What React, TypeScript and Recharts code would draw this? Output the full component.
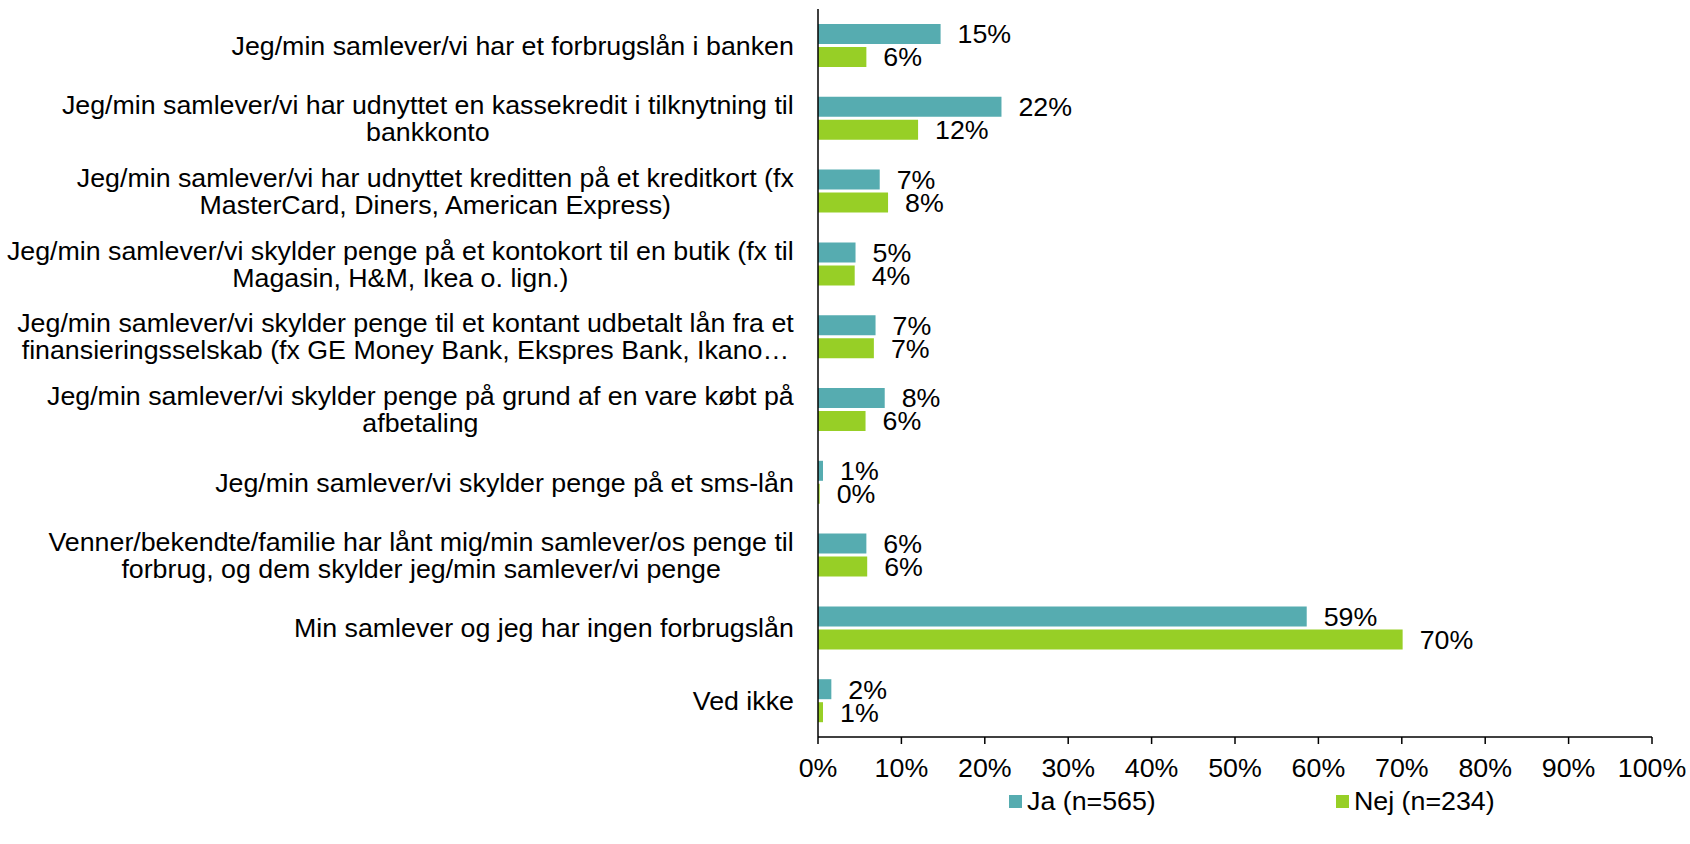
import React from 'react';
import { BarChart, Bar, XAxis, YAxis, Legend, LabelList } from 'recharts';

const categories = [
  'Jeg/min samlever/vi har et forbrugslån i banken',
  'Jeg/min samlever/vi har udnyttet en kassekredit i tilknytning til bankkonto',
  'Jeg/min samlever/vi har udnyttet kreditten på et kreditkort (fx MasterCard, Diners, American Express)',
  'Jeg/min samlever/vi skylder penge på et kontokort til en butik (fx til Magasin, H&M, Ikea o. lign.)',
  'Jeg/min samlever/vi skylder penge til et kontant udbetalt lån fra et finansieringsselskab (fx GE Money Bank, Ekspres Bank, Ikano…',
  'Jeg/min samlever/vi skylder penge på grund af en vare købt på afbetaling',
  'Jeg/min samlever/vi skylder penge på et sms-lån',
  'Venner/bekendte/familie har lånt mig/min samlever/os penge til forbrug, og dem skylder jeg/min samlever/vi penge',
  'Min samlever og jeg har ingen forbrugslån',
  'Ved ikke',
];

// tick label lines, as wrapped in the original
const categoryLines = [
  ['Jeg/min samlever/vi har et forbrugslån i banken'],
  ['Jeg/min samlever/vi har udnyttet en kassekredit i tilknytning til', 'bankkonto'],
  ['Jeg/min samlever/vi har udnyttet kreditten på et kreditkort (fx', 'MasterCard, Diners, American Express)'],
  ['Jeg/min samlever/vi skylder penge på et kontokort til en butik (fx til', 'Magasin, H&M, Ikea o. lign.)'],
  ['Jeg/min samlever/vi skylder penge til et kontant udbetalt lån fra et', 'finansieringsselskab (fx GE Money Bank, Ekspres Bank, Ikano…'],
  ['Jeg/min samlever/vi skylder penge på grund af en vare købt på', 'afbetaling'],
  ['Jeg/min samlever/vi skylder penge på et sms-lån'],
  ['Venner/bekendte/familie har lånt mig/min samlever/os penge til', 'forbrug, og dem skylder jeg/min samlever/vi penge'],
  ['Min samlever og jeg har ingen forbrugslån'],
  ['Ved ikke'],
];

const jaValues = [14.7, 22.0, 7.4, 4.5, 6.9, 8.0, 0.6, 5.8, 58.6, 1.6];
const nejValues = [5.8, 12.0, 8.4, 4.4, 6.7, 5.7, 0.2, 5.9, 70.1, 0.6];
const seriesNames = ['Ja (n=565)', 'Nej (n=234)'];
const xTicks = [0, 10, 20, 30, 40, 50, 60, 70, 80, 90, 100];

const data = categories.map((name, i) => ({ name, ja: jaValues[i], nej: nejValues[i] }));

const FONT = '"Liberation Sans", Arial, sans-serif';
const FS = 26;
const SX = 1.03; // original glyphs run a touch wider
const LINE_H = 27;
const TEAL = '#56acb0';
const GREEN = '#97cf26';

let ctx: CanvasRenderingContext2D | null = null;
const textWidth = (s: string) => {
  if (!ctx) ctx = document.createElement('canvas').getContext('2d');
  if (!ctx) return s.length * FS * 0.5;
  ctx.font = `${FS}px ${FONT}`;
  return ctx.measureText(s).width;
};

const CategoryTick = (props: any) => {
  const { x, y, payload } = props;
  const lines = categoryLines[payload.index] || [String(payload.value)];
  const maxW = Math.max(...lines.map(textWidth)) * SX;
  const cx = x - maxW / 2;
  return (
    <g>
      {lines.map((line, i) => (
        <g key={i} transform={`translate(${cx},${y + (i - (lines.length - 1) / 2) * LINE_H}) scale(${SX},1)`}>
          <text x={0} y={0} dy="0.36em" textAnchor="middle" fontFamily={FONT} fontSize={FS} fill="#000">
            {line}
          </text>
        </g>
      ))}
    </g>
  );
};

const PercentTick = (props: any) => {
  const { x, y, payload } = props;
  return (
    <g transform={`translate(${x},${y}) scale(${SX},1)`}>
      <text x={0} y={0} dy="0.71em" textAnchor="middle" fontFamily={FONT} fontSize={FS} fill="#000">
        {payload.value}%
      </text>
    </g>
  );
};

const ValueLabel = (props: any) => {
  const { x, y, width, height, value } = props;
  return (
    <g transform={`translate(${x + width + 17},${y + height / 2}) scale(${SX},1)`}>
      <text x={0} y={0} dy="0.36em" textAnchor="start" fontFamily={FONT} fontSize={FS} fill="#000">
        {Math.round(value)}%
      </text>
    </g>
  );
};

const legendLeft = [1009, 1336];
const legendColors = [TEAL, GREEN];

const LegendContent = () => (
  <div style={{ position: 'relative', height: 0 }}>
    {seriesNames.map((n, i) => (
      <div
        key={n}
        style={{ position: 'absolute', left: legendLeft[i], top: 786, display: 'flex', alignItems: 'center', whiteSpace: 'nowrap' }}
      >
        <span style={{ width: 13, height: 13, background: legendColors[i], display: 'inline-block', marginRight: 5 }} />
        <span
          style={{
            fontFamily: FONT,
            fontSize: FS,
            color: '#000',
            lineHeight: '30px',
            display: 'inline-block',
            transform: `scaleX(${SX})`,
            transformOrigin: 'left center',
          }}
        >
          {n}
        </span>
      </div>
    ))}
  </div>
);

export default function App() {
  return (
    <div style={{ position: 'absolute', left: 0, top: 0, width: 1690, height: 844, background: '#fff' }}>
      <BarChart
        width={1690}
        height={844}
        data={data}
        layout="vertical"
        margin={{ top: 9, right: 38, left: 0, bottom: 47 }}
        barGap={3}
      >
        <XAxis
          type="number"
          domain={[0, 100]}
          ticks={xTicks}
          interval={0}
          height={60}
          axisLine={{ stroke: '#000', strokeWidth: 1.5 }}
          tickLine={{ stroke: '#000', strokeWidth: 1.5 }}
          tickSize={7}
          tickMargin={15}
          tick={<PercentTick />}
        />
        <YAxis
          type="category"
          dataKey="name"
          width={818}
          interval={0}
          axisLine={{ stroke: '#000', strokeWidth: 1.5 }}
          tickLine={false}
          tickSize={0}
          tickMargin={24}
          tick={<CategoryTick />}
        />
        <Legend
          content={<LegendContent />}
          wrapperStyle={{ position: 'absolute', left: 0, top: 0, width: 1690, height: 0, bottom: 'auto' }}
        />
        <Bar dataKey="ja" name={seriesNames[0]} fill={TEAL} barSize={20} isAnimationActive={false}>
          <LabelList dataKey="ja" content={<ValueLabel />} />
        </Bar>
        <Bar dataKey="nej" name={seriesNames[1]} fill={GREEN} barSize={20} isAnimationActive={false}>
          <LabelList dataKey="nej" content={<ValueLabel />} />
        </Bar>
      </BarChart>
    </div>
  );
}
